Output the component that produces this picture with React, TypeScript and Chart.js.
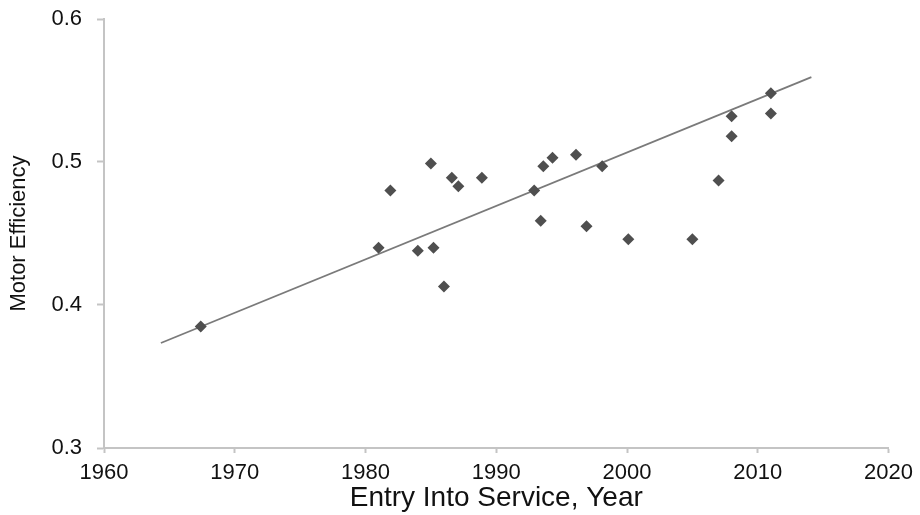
import React, { useEffect, useRef } from 'react';
import { Chart, registerables } from 'chart.js';

Chart.register(...registerables);

// Scatter data: entry into service year vs motor efficiency
const years = [1967.4, 1981.0, 1981.9, 1984.0, 1985.0, 1985.2, 1986.0, 1986.6, 1987.1, 1988.9, 1992.9, 1993.4, 1993.6, 1994.3, 1996.1, 1996.9, 1998.1, 2000.1, 2005.0, 2007.0, 2008.0, 2008.0, 2011.0, 2011.0];
const efficiency = [0.385, 0.440, 0.480, 0.438, 0.499, 0.440, 0.413, 0.489, 0.483, 0.489, 0.480, 0.459, 0.497, 0.503, 0.505, 0.455, 0.497, 0.446, 0.446, 0.487, 0.532, 0.518, 0.548, 0.534];

// Linear trend line endpoints
const trendYears = [1964.35, 2014.1];
const trendValues = [0.3734, 0.5594];

// Axis ticks
const xTicks = [1960, 1970, 1980, 1990, 2000, 2010, 2020];
const yTicks = [0.3, 0.4, 0.5, 0.6];

const FONT = '"Liberation Sans", Arial, Helvetica, sans-serif';
const AXIS_COLOR = '#c4c4c4';
const TEXT_COLOR = '#111111';

export default function App() {
  const canvasRef = useRef<HTMLCanvasElement | null>(null);

  useEffect(() => {
    if (!canvasRef.current) return;
    const chart = new Chart(canvasRef.current, {
      type: 'scatter',
      data: {
        datasets: [
          {
            type: 'line',
            label: 'Trend',
            data: trendYears.map((x, i) => ({ x, y: trendValues[i] })),
            borderColor: '#7a7a7a',
            borderWidth: 1.8,
            pointRadius: 0,
            fill: false,
            order: 2,
          },
          {
            type: 'scatter',
            label: 'Motor Efficiency',
            data: years.map((x, i) => ({ x, y: efficiency[i] })),
            pointStyle: 'rectRot',
            pointRadius: 6,
            backgroundColor: '#4f4f4f',
            borderColor: '#4f4f4f',
            borderWidth: 0,
            order: 1,
          },
        ],
      },
      options: {
        animation: false,
        responsive: true,
        maintainAspectRatio: false,
        layout: { padding: { left: 0, right: 30, top: 19, bottom: 0 } },
        plugins: { legend: { display: false }, tooltip: { enabled: false } },
        scales: {
          x: {
            type: 'linear',
            min: 1960,
            max: 2020,
            afterBuildTicks: (scale: any) => {
              scale.ticks = xTicks.map((v) => ({ value: v }));
            },
            afterFit: (scale: any) => {
              scale.height = 67;
            },
            ticks: {
              color: TEXT_COLOR,
              font: { family: FONT, size: 22 },
              padding: 7,
              maxRotation: 0,
              callback: (v: any) => String(v),
            },
            grid: {
              display: true,
              drawOnChartArea: false,
              drawTicks: true,
              tickLength: 5,
              tickColor: AXIS_COLOR,
              tickWidth: 2,
            },
            border: { display: true, color: AXIS_COLOR, width: 2 },
            title: {
              display: true,
              text: 'Entry Into Service, Year',
              color: TEXT_COLOR,
              font: { family: FONT, size: 28 },
              padding: { top: 0, bottom: 0 },
            },
          },
          y: {
            type: 'linear',
            min: 0.3,
            max: 0.6,
            afterBuildTicks: (scale: any) => {
              scale.ticks = yTicks.map((v) => ({ value: v }));
            },
            afterFit: (scale: any) => {
              scale.width = 104;
              scale.paddingTop = 8;
              scale.paddingBottom = 8;
            },
            ticks: {
              color: TEXT_COLOR,
              font: { family: FONT, size: 22 },
              padding: 15,
              callback: (v: any) => Number(v).toFixed(1),
            },
            grid: {
              display: true,
              drawOnChartArea: false,
              drawTicks: true,
              tickLength: 7,
              tickColor: AXIS_COLOR,
              tickWidth: 2,
            },
            border: { display: true, color: AXIS_COLOR, width: 2 },
            title: {
              display: true,
              text: 'Motor Efficiency',
              color: TEXT_COLOR,
              font: { family: FONT, size: 22 },
              padding: { top: 6, bottom: 0 },
            },
          },
        },
      },
    });
    return () => chart.destroy();
  }, []);

  return (
    <div style={{ position: 'fixed', left: 0, top: 0, width: 920, height: 515, background: '#ffffff' }}>
      <canvas ref={canvasRef} />
    </div>
  );
}
